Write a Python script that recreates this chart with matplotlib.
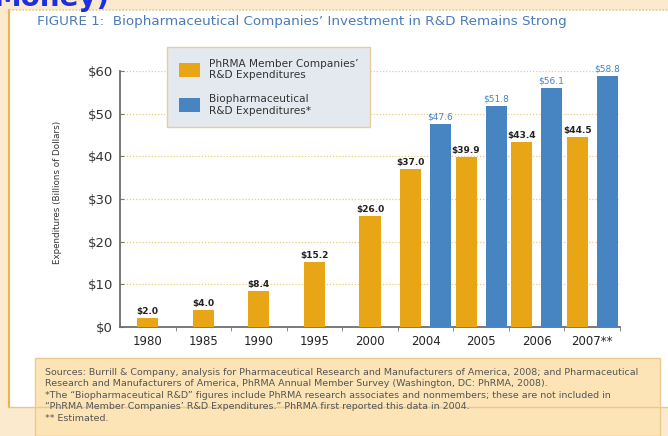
import matplotlib
matplotlib.use("Agg")
import matplotlib.pyplot as plt
import numpy as np
from matplotlib.patches import Rectangle, Patch
from matplotlib.lines import Line2D

# data
years = ["1980", "1985", "1990", "1995", "2000", "2004", "2005", "2006", "2007**"]
phrma = [2.0, 4.0, 8.4, 15.2, 26.0, 37.0, 39.9, 43.4, 44.5]
bio_years = ["2004", "2005", "2006", "2007**"]
bio = [47.6, 51.8, 56.1, 58.8]
yticks = [0, 10, 20, 30, 40, 50, 60]

ORANGE = "#E8A616"
BLUE = "#4684C2"
FONT = ["DejaVu Sans"]

W, H = 668, 436
fig = plt.figure(figsize=(W / 100, H / 100), dpi=100, facecolor="#FBEACD")


def fx(px):
    return px / W


def fy(py):
    return 1 - py / H


# white panel with frame lines
fig.patches.append(Rectangle((fx(9), fy(407)), 1 - fx(9), fy(10) - fy(407),
                             transform=fig.transFigure, facecolor="white",
                             edgecolor="none", zorder=-5))
fig.add_artist(Line2D([fx(9), fx(9)], [fy(10), fy(407)], color="#E9B550", lw=1.5))
fig.add_artist(Line2D([fx(9), 1], [fy(10), fy(10)], color="#E6C98C", lw=1.2, ls=(0, (1, 1))))
fig.add_artist(Line2D([fx(9), 1], [fy(407), fy(407)], color="#E6C98C", lw=1.0))

# clipped heading from the page above
fig.text(fx(-6), fy(6.5), "Money)", fontsize=20, fontweight="bold", color="#1E2FE0",
         va="baseline", ha="left")

fig.text(fx(37), fy(22), "FIGURE 1:  Biopharmaceutical Companies\u2019 Investment in R&D Remains Strong",
         fontsize=9.7, color="#4C7BB8", family=FONT, va="center", ha="left")

ax = fig.add_axes([fx(120), fy(327), fx(620) - fx(120), fy(71) - fy(327)])
ax.set_facecolor("none")

x = np.arange(len(years))
n_single = len(years) - len(bio)
w = 0.38
off = np.array([0.0] * n_single + [-0.27] * len(bio))
bio_x = x[n_single:] + 0.27

ob = ax.bar(x + off, phrma, width=w, color=ORANGE, zorder=3)
bb = ax.bar(bio_x, bio, width=w, color=BLUE, zorder=3)

for rect, v in zip(ob, phrma):
    ax.text(rect.get_x() + rect.get_width() / 2, v + 0.5, f"${v:.1f}", ha="center",
            va="bottom", fontsize=6.5, fontweight="bold", color="#222222", family=FONT)
for rect, v in zip(bb, bio):
    ax.text(rect.get_x() + rect.get_width() / 2, v + 0.5, f"${v:.1f}", ha="center",
            va="bottom", fontsize=6.5, color=BLUE, family=FONT)

ax.set_xlim(-0.5, len(years) - 0.5)
ax.set_ylim(0, 60)
ax.set_yticks(yticks)
ax.set_yticklabels([f"${t}" for t in yticks], fontsize=9.5, color="#333333")
ax.set_xticks(x)
ax.set_xticklabels(years, fontsize=8.5, color="#222222")
ax.set_xticks(np.arange(0.5, len(years), 1), minor=True)
ax.tick_params(axis="x", which="major", length=0, pad=6)
ax.tick_params(axis="x", which="minor", length=3, color="#777777")
ax.tick_params(axis="y", length=3, direction="in", color="#777777", pad=5)

for y in yticks[1:]:
    ax.axhline(y, color="#EDCB7A", lw=0.9, ls=(0, (1, 1.5)), zorder=1)

for s in ["top", "right"]:
    ax.spines[s].set_visible(False)
for s in ["left", "bottom"]:
    ax.spines[s].set_color("#6E6E6E")
    ax.spines[s].set_linewidth(1.3)

fig.text(fx(58), fy(192), "Expenditures (Billions of Dollars)", rotation=90, fontsize=6.3,
         color="#333333", family=FONT, ha="center", va="center")

handles = [Patch(facecolor=ORANGE), Patch(facecolor=BLUE)]
leg = ax.legend(handles, ["PhRMA Member Companies\u2019\nR&D Expenditures",
                          "Biopharmaceutical\nR&D Expenditures*"],
                loc="upper left", bbox_to_anchor=((167 - 120) / 500, (327 - 47) / 256),
                prop={"family": FONT, "size": 7.6}, frameon=True, fancybox=False,
                handlelength=2.0, handleheight=1.7, labelspacing=1.3,
                borderpad=1.1, handletextpad=0.9, borderaxespad=0)
leg.get_frame().set_facecolor("#E4E9F0")
leg.get_frame().set_edgecolor("#E6CF95")
leg.get_frame().set_alpha(1)
for t in leg.get_texts():
    t.set_color("#333333")

# source box
fig.patches.append(Rectangle((fx(35), 0), fx(660) - fx(35), fy(358), transform=fig.transFigure,
                             facecolor="#FDE4B7", edgecolor="#EBCB8B", lw=1.0, zorder=1))
notes = [
    "Sources: Burrill & Company, analysis for Pharmaceutical Research and Manufacturers of America, 2008; and Pharmaceutical",
    "Research and Manufacturers of America, PhRMA Annual Member Survey (Washington, DC: PhRMA, 2008).",
    "*The \u201cBiopharmaceutical R&D\u201d figures include PhRMA research associates and nonmembers; these are not included in",
    "\u201cPhRMA Member Companies\u2019 R&D Expenditures.\u201d PhRMA first reported this data in 2004.",
    "** Estimated.",
]
for i, line in enumerate(notes):
    fig.text(fx(45), fy(372 + 11.6 * i), line, fontsize=6.8, color="#555555",
             ha="left", va="center", zorder=2)

fig.savefig("out.png", dpi=100, facecolor=fig.get_facecolor())
